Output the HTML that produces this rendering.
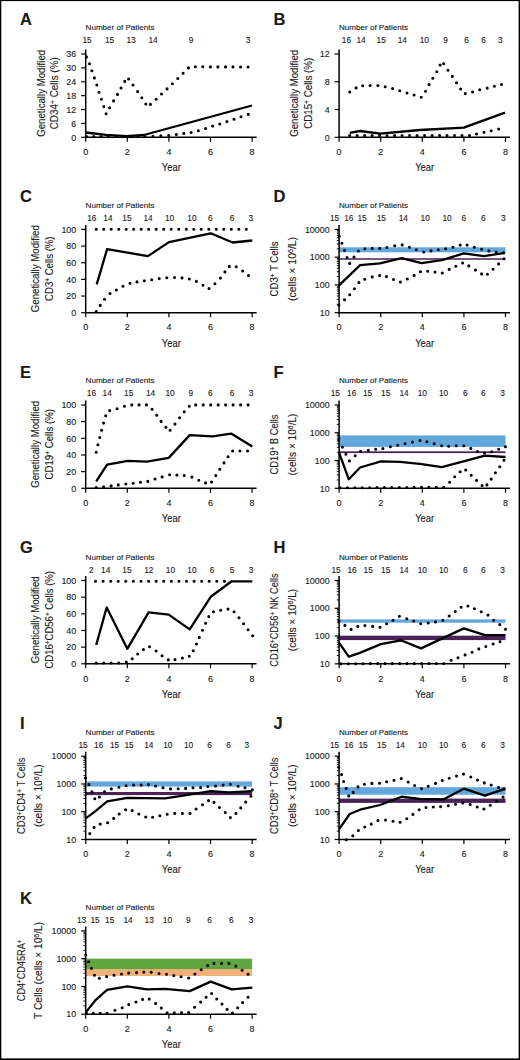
<!DOCTYPE html>
<html><head><meta charset="utf-8"><style>
html,body{margin:0;padding:0;background:#fff;}
svg{display:block;}
text{font-family:"Liberation Sans", sans-serif;fill:#1a1a1a;stroke:#1a1a1a;stroke-width:0.12px;}
</style></head><body>
<svg width="520" height="1060" viewBox="0 0 520 1060">
<rect x="0" y="0" width="520" height="1060" fill="#fff"/>
<path d="M85.70,49.50 V137.30 H256.60" fill="none" stroke="#000" stroke-width="1.5"/>
<line x1="85.70" y1="137.30" x2="85.70" y2="141.80" stroke="#000" stroke-width="1.2"/>
<text x="85.70" y="155.00" font-size="9.0" text-anchor="middle" font-weight="normal">0</text>
<line x1="127.30" y1="137.30" x2="127.30" y2="141.80" stroke="#000" stroke-width="1.2"/>
<text x="127.30" y="155.00" font-size="9.0" text-anchor="middle" font-weight="normal">2</text>
<line x1="168.90" y1="137.30" x2="168.90" y2="141.80" stroke="#000" stroke-width="1.2"/>
<text x="168.90" y="155.00" font-size="9.0" text-anchor="middle" font-weight="normal">4</text>
<line x1="210.50" y1="137.30" x2="210.50" y2="141.80" stroke="#000" stroke-width="1.2"/>
<text x="210.50" y="155.00" font-size="9.0" text-anchor="middle" font-weight="normal">6</text>
<line x1="252.10" y1="137.30" x2="252.10" y2="141.80" stroke="#000" stroke-width="1.2"/>
<text x="252.10" y="155.00" font-size="9.0" text-anchor="middle" font-weight="normal">8</text>
<text x="171.30" y="171.10" font-size="10.3" text-anchor="middle" font-weight="normal" textLength="19" lengthAdjust="spacingAndGlyphs">Year</text>
<line x1="81.20" y1="137.30" x2="85.70" y2="137.30" stroke="#000" stroke-width="1.2"/>
<text x="76.20" y="140.50" font-size="8.9" text-anchor="end" font-weight="normal">0</text>
<line x1="81.20" y1="123.42" x2="85.70" y2="123.42" stroke="#000" stroke-width="1.2"/>
<text x="76.20" y="126.62" font-size="8.9" text-anchor="end" font-weight="normal">6</text>
<line x1="81.20" y1="109.53" x2="85.70" y2="109.53" stroke="#000" stroke-width="1.2"/>
<text x="76.20" y="112.73" font-size="8.9" text-anchor="end" font-weight="normal">12</text>
<line x1="81.20" y1="95.65" x2="85.70" y2="95.65" stroke="#000" stroke-width="1.2"/>
<text x="76.20" y="98.85" font-size="8.9" text-anchor="end" font-weight="normal">18</text>
<line x1="81.20" y1="81.77" x2="85.70" y2="81.77" stroke="#000" stroke-width="1.2"/>
<text x="76.20" y="84.97" font-size="8.9" text-anchor="end" font-weight="normal">24</text>
<line x1="81.20" y1="67.88" x2="85.70" y2="67.88" stroke="#000" stroke-width="1.2"/>
<text x="76.20" y="71.08" font-size="8.9" text-anchor="end" font-weight="normal">30</text>
<line x1="81.20" y1="54.00" x2="85.70" y2="54.00" stroke="#000" stroke-width="1.2"/>
<text x="76.20" y="57.20" font-size="8.9" text-anchor="end" font-weight="normal">36</text>
<text x="20.00" y="24.50" font-size="16.5" text-anchor="start" font-weight="bold">A</text>
<text x="85.60" y="30.40" font-size="7.8" text-anchor="start" font-weight="normal" textLength="69" lengthAdjust="spacingAndGlyphs">Number of Patients</text>
<text x="87.00" y="43.00" font-size="8.3" text-anchor="middle" font-weight="normal">15</text>
<text x="109.50" y="43.00" font-size="8.3" text-anchor="middle" font-weight="normal">15</text>
<text x="131.00" y="43.00" font-size="8.3" text-anchor="middle" font-weight="normal">13</text>
<text x="153.00" y="43.00" font-size="8.3" text-anchor="middle" font-weight="normal">14</text>
<text x="191.10" y="43.00" font-size="8.3" text-anchor="middle" font-weight="normal">9</text>
<text x="248.10" y="43.00" font-size="8.3" text-anchor="middle" font-weight="normal">3</text>
<text x="0" y="0" font-size="10.4" text-anchor="middle" transform="translate(44.60,93.30) rotate(-90)" textLength="87" lengthAdjust="spacingAndGlyphs">Genetically Modified</text>
<text x="0" y="0" font-size="10.4" text-anchor="middle" transform="translate(58.20,93.30) rotate(-90)" textLength="72" lengthAdjust="spacingAndGlyphs">CD34<tspan dy="-0.42em" font-size="68%">+</tspan><tspan dy="0.286em"> Cells (%)</tspan></text>
<path d="M86.4,56.9h0 M89.5,63.8h0 M91.9,70.8h0 M94.4,77.9h0 M96.8,85.0h0 M99.0,92.2h0 M101.4,99.3h0 M103.8,106.6h0 M106.1,113.7h0 M109.6,107.7h0 M113.6,100.9h0 M117.5,94.4h0 M121.0,88.0h0 M124.8,81.4h0 M128.6,79.0h0 M133.0,85.0h0 M137.6,91.6h0 M141.8,97.8h0 M145.8,104.0h0 M150.4,104.4h0 M156.2,99.3h0 M161.5,94.0h0 M167.0,88.9h0 M172.3,83.8h0 M177.8,78.5h0 M183.1,73.3h0 M188.4,67.9h0 M195.3,66.8h0 M202.8,66.8h0 M210.4,66.9h0 M217.9,66.9h0 M225.5,66.9h0 M233.0,66.9h0 M240.6,67.0h0 M248.1,67.0h0" fill="none" stroke="#050510" stroke-width="3.1" stroke-linecap="round"/>
<path d="M85.7,132.5 L106.0,134.9 L127.0,136.1 L144.0,135.0 L252.0,105.5" fill="none" stroke="#000" stroke-width="2.3" stroke-linejoin="round"/>
<path d="M86.5,136.6h0 M93.8,136.6h0 M101.1,136.6h0 M108.4,136.6h0 M115.8,136.6h0 M123.1,136.6h0 M130.4,136.6h0 M137.7,136.6h0 M145.0,136.6h0 M152.9,136.2h0 M160.8,135.9h0 M168.7,135.5h0 M176.3,134.5h0 M183.8,133.4h0 M191.1,132.5h0 M198.4,130.7h0 M205.6,128.5h0 M212.7,126.1h0 M219.8,124.0h0 M226.9,121.6h0 M234.0,119.2h0 M241.0,116.8h0 M248.3,114.4h0" fill="none" stroke="#050510" stroke-width="3.1" stroke-linecap="round"/>
<path d="M339.10,49.50 V137.30 H510.00" fill="none" stroke="#000" stroke-width="1.5"/>
<line x1="339.10" y1="137.30" x2="339.10" y2="141.80" stroke="#000" stroke-width="1.2"/>
<text x="339.10" y="155.00" font-size="9.0" text-anchor="middle" font-weight="normal">0</text>
<line x1="380.70" y1="137.30" x2="380.70" y2="141.80" stroke="#000" stroke-width="1.2"/>
<text x="380.70" y="155.00" font-size="9.0" text-anchor="middle" font-weight="normal">2</text>
<line x1="422.30" y1="137.30" x2="422.30" y2="141.80" stroke="#000" stroke-width="1.2"/>
<text x="422.30" y="155.00" font-size="9.0" text-anchor="middle" font-weight="normal">4</text>
<line x1="463.90" y1="137.30" x2="463.90" y2="141.80" stroke="#000" stroke-width="1.2"/>
<text x="463.90" y="155.00" font-size="9.0" text-anchor="middle" font-weight="normal">6</text>
<line x1="505.50" y1="137.30" x2="505.50" y2="141.80" stroke="#000" stroke-width="1.2"/>
<text x="505.50" y="155.00" font-size="9.0" text-anchor="middle" font-weight="normal">8</text>
<text x="424.70" y="171.10" font-size="10.3" text-anchor="middle" font-weight="normal" textLength="19" lengthAdjust="spacingAndGlyphs">Year</text>
<line x1="334.60" y1="137.30" x2="339.10" y2="137.30" stroke="#000" stroke-width="1.2"/>
<text x="329.60" y="140.50" font-size="8.9" text-anchor="end" font-weight="normal">0</text>
<line x1="334.60" y1="109.53" x2="339.10" y2="109.53" stroke="#000" stroke-width="1.2"/>
<text x="329.60" y="112.73" font-size="8.9" text-anchor="end" font-weight="normal">4</text>
<line x1="334.60" y1="81.77" x2="339.10" y2="81.77" stroke="#000" stroke-width="1.2"/>
<text x="329.60" y="84.97" font-size="8.9" text-anchor="end" font-weight="normal">8</text>
<line x1="334.60" y1="54.00" x2="339.10" y2="54.00" stroke="#000" stroke-width="1.2"/>
<text x="329.60" y="57.20" font-size="8.9" text-anchor="end" font-weight="normal">12</text>
<text x="273.50" y="24.50" font-size="16.5" text-anchor="start" font-weight="bold">B</text>
<text x="339.00" y="30.20" font-size="7.8" text-anchor="start" font-weight="normal" textLength="69" lengthAdjust="spacingAndGlyphs">Number of Patients</text>
<text x="346.40" y="42.50" font-size="8.3" text-anchor="middle" font-weight="normal">16</text>
<text x="361.00" y="42.50" font-size="8.3" text-anchor="middle" font-weight="normal">14</text>
<text x="381.20" y="42.50" font-size="8.3" text-anchor="middle" font-weight="normal">15</text>
<text x="402.30" y="42.50" font-size="8.3" text-anchor="middle" font-weight="normal">14</text>
<text x="424.30" y="42.50" font-size="8.3" text-anchor="middle" font-weight="normal">10</text>
<text x="445.50" y="42.50" font-size="8.3" text-anchor="middle" font-weight="normal">9</text>
<text x="466.60" y="42.50" font-size="8.3" text-anchor="middle" font-weight="normal">6</text>
<text x="483.50" y="42.50" font-size="8.3" text-anchor="middle" font-weight="normal">6</text>
<text x="500.30" y="42.50" font-size="8.3" text-anchor="middle" font-weight="normal">3</text>
<text x="0" y="0" font-size="10.4" text-anchor="middle" transform="translate(298.00,93.30) rotate(-90)" textLength="87" lengthAdjust="spacingAndGlyphs">Genetically Modified</text>
<text x="0" y="0" font-size="10.4" text-anchor="middle" transform="translate(311.60,93.30) rotate(-90)" textLength="71" lengthAdjust="spacingAndGlyphs">CD15<tspan dy="-0.42em" font-size="68%">+</tspan><tspan dy="0.286em"> Cells (%)</tspan></text>
<path d="M349.7,92.1h0 M356.1,87.9h0 M362.7,85.8h0 M370.1,85.5h0 M377.9,85.5h0 M385.2,86.7h0 M392.6,88.6h0 M399.7,90.7h0 M407.0,93.0h0 M414.1,95.0h0 M421.2,97.3h0 M425.5,91.2h0 M429.1,84.6h0 M432.8,78.2h0 M436.8,71.7h0 M440.1,65.1h0 M443.7,63.8h0 M448.0,70.2h0 M452.3,76.4h0 M456.5,82.8h0 M460.7,89.0h0 M465.3,93.6h0 M472.6,92.0h0 M479.7,89.8h0 M487.2,88.1h0 M494.4,86.3h0 M501.5,84.5h0" fill="none" stroke="#050510" stroke-width="3.1" stroke-linecap="round"/>
<path d="M349.7,132.9 L360.1,131.0 L380.3,133.6 L420.0,130.0 L463.8,127.6 L505.0,112.6" fill="none" stroke="#000" stroke-width="2.3" stroke-linejoin="round"/>
<path d="M349.7,135.6h0 M357.2,135.6h0 M364.7,135.6h0 M372.2,135.6h0 M379.6,135.6h0 M387.1,135.6h0 M394.6,135.6h0 M402.1,135.6h0 M409.6,135.6h0 M417.1,135.6h0 M424.6,135.6h0 M432.1,135.6h0 M439.6,135.6h0 M447.0,135.6h0 M454.5,135.6h0 M462.0,135.6h0 M469.5,135.6h0 M476.6,134.0h0 M484.0,132.3h0 M491.2,130.7h0 M498.6,129.0h0" fill="none" stroke="#050510" stroke-width="3.1" stroke-linecap="round"/>
<path d="M85.70,224.90 V312.70 H256.60" fill="none" stroke="#000" stroke-width="1.5"/>
<line x1="85.70" y1="312.70" x2="85.70" y2="317.20" stroke="#000" stroke-width="1.2"/>
<text x="85.70" y="330.40" font-size="9.0" text-anchor="middle" font-weight="normal">0</text>
<line x1="127.30" y1="312.70" x2="127.30" y2="317.20" stroke="#000" stroke-width="1.2"/>
<text x="127.30" y="330.40" font-size="9.0" text-anchor="middle" font-weight="normal">2</text>
<line x1="168.90" y1="312.70" x2="168.90" y2="317.20" stroke="#000" stroke-width="1.2"/>
<text x="168.90" y="330.40" font-size="9.0" text-anchor="middle" font-weight="normal">4</text>
<line x1="210.50" y1="312.70" x2="210.50" y2="317.20" stroke="#000" stroke-width="1.2"/>
<text x="210.50" y="330.40" font-size="9.0" text-anchor="middle" font-weight="normal">6</text>
<line x1="252.10" y1="312.70" x2="252.10" y2="317.20" stroke="#000" stroke-width="1.2"/>
<text x="252.10" y="330.40" font-size="9.0" text-anchor="middle" font-weight="normal">8</text>
<text x="171.30" y="346.50" font-size="10.3" text-anchor="middle" font-weight="normal" textLength="19" lengthAdjust="spacingAndGlyphs">Year</text>
<line x1="81.20" y1="312.70" x2="85.70" y2="312.70" stroke="#000" stroke-width="1.2"/>
<text x="76.20" y="315.90" font-size="8.9" text-anchor="end" font-weight="normal">0</text>
<line x1="81.20" y1="296.04" x2="85.70" y2="296.04" stroke="#000" stroke-width="1.2"/>
<text x="76.20" y="299.24" font-size="8.9" text-anchor="end" font-weight="normal">20</text>
<line x1="81.20" y1="279.38" x2="85.70" y2="279.38" stroke="#000" stroke-width="1.2"/>
<text x="76.20" y="282.58" font-size="8.9" text-anchor="end" font-weight="normal">40</text>
<line x1="81.20" y1="262.72" x2="85.70" y2="262.72" stroke="#000" stroke-width="1.2"/>
<text x="76.20" y="265.92" font-size="8.9" text-anchor="end" font-weight="normal">60</text>
<line x1="81.20" y1="246.06" x2="85.70" y2="246.06" stroke="#000" stroke-width="1.2"/>
<text x="76.20" y="249.26" font-size="8.9" text-anchor="end" font-weight="normal">80</text>
<line x1="81.20" y1="229.40" x2="85.70" y2="229.40" stroke="#000" stroke-width="1.2"/>
<text x="76.20" y="232.60" font-size="8.9" text-anchor="end" font-weight="normal">100</text>
<text x="20.00" y="202.30" font-size="16.5" text-anchor="start" font-weight="bold">C</text>
<text x="85.60" y="207.70" font-size="7.8" text-anchor="start" font-weight="normal" textLength="69" lengthAdjust="spacingAndGlyphs">Number of Patients</text>
<text x="91.80" y="220.60" font-size="8.3" text-anchor="middle" font-weight="normal">16</text>
<text x="107.90" y="220.60" font-size="8.3" text-anchor="middle" font-weight="normal">14</text>
<text x="126.90" y="220.60" font-size="8.3" text-anchor="middle" font-weight="normal">15</text>
<text x="148.10" y="220.60" font-size="8.3" text-anchor="middle" font-weight="normal">14</text>
<text x="169.60" y="220.60" font-size="8.3" text-anchor="middle" font-weight="normal">10</text>
<text x="191.90" y="220.60" font-size="8.3" text-anchor="middle" font-weight="normal">10</text>
<text x="210.20" y="220.60" font-size="8.3" text-anchor="middle" font-weight="normal">6</text>
<text x="232.10" y="220.60" font-size="8.3" text-anchor="middle" font-weight="normal">6</text>
<text x="250.70" y="220.60" font-size="8.3" text-anchor="middle" font-weight="normal">3</text>
<text x="0" y="0" font-size="10.4" text-anchor="middle" transform="translate(39.00,268.70) rotate(-90)" textLength="87" lengthAdjust="spacingAndGlyphs">Genetically Modified</text>
<text x="0" y="0" font-size="10.4" text-anchor="middle" transform="translate(53.20,268.70) rotate(-90)" textLength="64.5" lengthAdjust="spacingAndGlyphs">CD3<tspan dy="-0.42em" font-size="68%">+</tspan><tspan dy="0.286em"> Cells (%)</tspan></text>
<path d="M96.2,229.2h0 M103.7,229.2h0 M111.2,229.2h0 M118.7,229.2h0 M126.2,229.2h0 M133.7,229.2h0 M141.2,229.2h0 M148.7,229.2h0 M156.2,229.2h0 M163.7,229.2h0 M171.2,229.2h0 M178.8,229.2h0 M186.3,229.2h0 M193.8,229.2h0 M201.3,229.2h0 M208.8,229.2h0 M216.3,229.2h0 M223.8,229.2h0 M231.3,229.2h0 M238.8,229.2h0 M246.3,229.2h0" fill="none" stroke="#050510" stroke-width="3.1" stroke-linecap="round"/>
<path d="M96.7,284.3 L107.1,249.2 L147.8,256.1 L169.0,242.1 L210.7,233.3 L232.6,242.5 L252.3,240.5" fill="none" stroke="#000" stroke-width="2.3" stroke-linejoin="round"/>
<path d="M96.2,311.6h0 M100.2,305.4h0 M104.5,299.2h0 M110.0,293.5h0 M116.3,290.0h0 M123.0,286.2h0 M130.0,283.3h0 M137.0,281.9h0 M144.3,280.8h0 M151.7,279.8h0 M159.2,278.6h0 M166.8,277.7h0 M174.5,277.5h0 M182.0,277.9h0 M189.3,279.0h0 M196.4,281.4h0 M203.0,285.2h0 M209.0,288.5h0 M214.9,283.7h0 M220.4,278.1h0 M224.9,271.9h0 M229.3,266.4h0 M236.2,266.8h0 M242.6,271.0h0 M248.5,275.5h0" fill="none" stroke="#050510" stroke-width="3.1" stroke-linecap="round"/>
<rect x="339.10" y="247.30" width="166.40" height="5.00" fill="#62a8dd"/>
<rect x="339.10" y="258.25" width="166.40" height="1.50" fill="#4a2458"/>
<path d="M339.10,224.90 V312.70 H510.00" fill="none" stroke="#000" stroke-width="1.5"/>
<line x1="339.10" y1="312.70" x2="339.10" y2="317.20" stroke="#000" stroke-width="1.2"/>
<text x="339.10" y="330.40" font-size="9.0" text-anchor="middle" font-weight="normal">0</text>
<line x1="380.70" y1="312.70" x2="380.70" y2="317.20" stroke="#000" stroke-width="1.2"/>
<text x="380.70" y="330.40" font-size="9.0" text-anchor="middle" font-weight="normal">2</text>
<line x1="422.30" y1="312.70" x2="422.30" y2="317.20" stroke="#000" stroke-width="1.2"/>
<text x="422.30" y="330.40" font-size="9.0" text-anchor="middle" font-weight="normal">4</text>
<line x1="463.90" y1="312.70" x2="463.90" y2="317.20" stroke="#000" stroke-width="1.2"/>
<text x="463.90" y="330.40" font-size="9.0" text-anchor="middle" font-weight="normal">6</text>
<line x1="505.50" y1="312.70" x2="505.50" y2="317.20" stroke="#000" stroke-width="1.2"/>
<text x="505.50" y="330.40" font-size="9.0" text-anchor="middle" font-weight="normal">8</text>
<text x="424.70" y="346.50" font-size="10.3" text-anchor="middle" font-weight="normal" textLength="19" lengthAdjust="spacingAndGlyphs">Year</text>
<line x1="334.60" y1="312.70" x2="339.10" y2="312.70" stroke="#000" stroke-width="1.2"/>
<text x="329.60" y="315.90" font-size="8.9" text-anchor="end" font-weight="normal">10</text>
<line x1="336.80" y1="304.34" x2="339.10" y2="304.34" stroke="#000" stroke-width="0.9"/>
<line x1="336.80" y1="299.45" x2="339.10" y2="299.45" stroke="#000" stroke-width="0.9"/>
<line x1="336.80" y1="295.98" x2="339.10" y2="295.98" stroke="#000" stroke-width="0.9"/>
<line x1="336.80" y1="293.29" x2="339.10" y2="293.29" stroke="#000" stroke-width="0.9"/>
<line x1="336.80" y1="291.09" x2="339.10" y2="291.09" stroke="#000" stroke-width="0.9"/>
<line x1="336.80" y1="289.23" x2="339.10" y2="289.23" stroke="#000" stroke-width="0.9"/>
<line x1="336.80" y1="287.62" x2="339.10" y2="287.62" stroke="#000" stroke-width="0.9"/>
<line x1="336.80" y1="286.20" x2="339.10" y2="286.20" stroke="#000" stroke-width="0.9"/>
<line x1="334.60" y1="284.93" x2="339.10" y2="284.93" stroke="#000" stroke-width="1.2"/>
<text x="329.60" y="288.13" font-size="8.9" text-anchor="end" font-weight="normal">100</text>
<line x1="336.80" y1="276.57" x2="339.10" y2="276.57" stroke="#000" stroke-width="0.9"/>
<line x1="336.80" y1="271.69" x2="339.10" y2="271.69" stroke="#000" stroke-width="0.9"/>
<line x1="336.80" y1="268.22" x2="339.10" y2="268.22" stroke="#000" stroke-width="0.9"/>
<line x1="336.80" y1="265.53" x2="339.10" y2="265.53" stroke="#000" stroke-width="0.9"/>
<line x1="336.80" y1="263.33" x2="339.10" y2="263.33" stroke="#000" stroke-width="0.9"/>
<line x1="336.80" y1="261.47" x2="339.10" y2="261.47" stroke="#000" stroke-width="0.9"/>
<line x1="336.80" y1="259.86" x2="339.10" y2="259.86" stroke="#000" stroke-width="0.9"/>
<line x1="336.80" y1="258.44" x2="339.10" y2="258.44" stroke="#000" stroke-width="0.9"/>
<line x1="334.60" y1="257.17" x2="339.10" y2="257.17" stroke="#000" stroke-width="1.2"/>
<text x="329.60" y="260.37" font-size="8.9" text-anchor="end" font-weight="normal">1000</text>
<line x1="336.80" y1="248.81" x2="339.10" y2="248.81" stroke="#000" stroke-width="0.9"/>
<line x1="336.80" y1="243.92" x2="339.10" y2="243.92" stroke="#000" stroke-width="0.9"/>
<line x1="336.80" y1="240.45" x2="339.10" y2="240.45" stroke="#000" stroke-width="0.9"/>
<line x1="336.80" y1="237.76" x2="339.10" y2="237.76" stroke="#000" stroke-width="0.9"/>
<line x1="336.80" y1="235.56" x2="339.10" y2="235.56" stroke="#000" stroke-width="0.9"/>
<line x1="336.80" y1="233.70" x2="339.10" y2="233.70" stroke="#000" stroke-width="0.9"/>
<line x1="336.80" y1="232.09" x2="339.10" y2="232.09" stroke="#000" stroke-width="0.9"/>
<line x1="336.80" y1="230.67" x2="339.10" y2="230.67" stroke="#000" stroke-width="0.9"/>
<line x1="334.60" y1="229.40" x2="339.10" y2="229.40" stroke="#000" stroke-width="1.2"/>
<text x="329.60" y="232.60" font-size="8.9" text-anchor="end" font-weight="normal">10000</text>
<text x="273.50" y="202.30" font-size="16.5" text-anchor="start" font-weight="bold">D</text>
<text x="339.00" y="207.70" font-size="7.8" text-anchor="start" font-weight="normal" textLength="69" lengthAdjust="spacingAndGlyphs">Number of Patients</text>
<text x="334.60" y="220.70" font-size="8.3" text-anchor="middle" font-weight="normal">15</text>
<text x="348.80" y="220.70" font-size="8.3" text-anchor="middle" font-weight="normal">16</text>
<text x="362.00" y="220.70" font-size="8.3" text-anchor="middle" font-weight="normal">15</text>
<text x="381.30" y="220.70" font-size="8.3" text-anchor="middle" font-weight="normal">15</text>
<text x="403.30" y="220.70" font-size="8.3" text-anchor="middle" font-weight="normal">14</text>
<text x="425.20" y="220.70" font-size="8.3" text-anchor="middle" font-weight="normal">10</text>
<text x="447.10" y="220.70" font-size="8.3" text-anchor="middle" font-weight="normal">10</text>
<text x="463.90" y="220.70" font-size="8.3" text-anchor="middle" font-weight="normal">6</text>
<text x="483.30" y="220.70" font-size="8.3" text-anchor="middle" font-weight="normal">6</text>
<text x="503.40" y="220.70" font-size="8.3" text-anchor="middle" font-weight="normal">3</text>
<text x="0" y="0" font-size="10.8" text-anchor="middle" transform="translate(278.30,268.90) rotate(-90)" textLength="55" lengthAdjust="spacingAndGlyphs">CD3<tspan dy="-0.42em" font-size="68%">+</tspan><tspan dy="0.286em"> T Cells</tspan></text>
<text x="0" y="0" font-size="10.8" text-anchor="middle" transform="translate(295.80,268.90) rotate(-90)" textLength="64" lengthAdjust="spacingAndGlyphs">(cells × 10<tspan dy="-0.42em" font-size="68%">6</tspan><tspan dy="0.286em">/L)</tspan></text>
<path d="M339.3,236.2h0 M341.9,243.2h0 M344.5,250.4h0 M347.1,257.5h0 M349.7,263.4h0 M354.0,257.0h0 M358.4,251.0h0 M364.8,248.7h0 M372.2,248.4h0 M379.7,248.4h0 M386.9,247.5h0 M394.7,245.8h0 M402.2,244.9h0 M409.4,247.2h0 M416.3,249.7h0 M423.7,252.0h0 M431.0,250.9h0 M438.3,249.7h0 M445.6,248.7h0 M452.9,247.3h0 M460.2,245.1h0 M467.1,245.1h0 M474.3,247.3h0 M481.6,249.3h0 M488.9,250.9h0 M496.2,252.0h0 M503.7,252.8h0" fill="none" stroke="#050510" stroke-width="3.1" stroke-linecap="round"/>
<path d="M338.8,285.6 L360.1,265.2 L380.0,263.4 L401.6,258.2 L421.5,263.1 L441.9,260.1 L463.8,253.3 L483.9,256.1 L505.0,252.8" fill="none" stroke="#000" stroke-width="2.3" stroke-linejoin="round"/>
<path d="M338.8,305.0h0 M344.5,299.8h0 M349.7,294.7h0 M354.4,288.7h0 M358.9,282.5h0 M364.8,279.2h0 M372.2,276.9h0 M379.7,275.5h0 M386.4,276.6h0 M393.5,279.5h0 M400.4,282.1h0 M407.3,279.0h0 M414.1,275.4h0 M420.5,271.7h0 M427.7,271.2h0 M435.0,272.1h0 M442.3,273.0h0 M449.2,269.4h0 M455.8,266.3h0 M462.6,263.0h0 M468.8,265.9h0 M475.4,270.1h0 M481.6,273.9h0 M487.4,274.3h0 M493.1,269.2h0 M498.6,263.9h0 M504.0,258.8h0" fill="none" stroke="#050510" stroke-width="3.1" stroke-linecap="round"/>
<path d="M85.70,400.50 V488.30 H256.60" fill="none" stroke="#000" stroke-width="1.5"/>
<line x1="85.70" y1="488.30" x2="85.70" y2="492.80" stroke="#000" stroke-width="1.2"/>
<text x="85.70" y="506.00" font-size="9.0" text-anchor="middle" font-weight="normal">0</text>
<line x1="127.30" y1="488.30" x2="127.30" y2="492.80" stroke="#000" stroke-width="1.2"/>
<text x="127.30" y="506.00" font-size="9.0" text-anchor="middle" font-weight="normal">2</text>
<line x1="168.90" y1="488.30" x2="168.90" y2="492.80" stroke="#000" stroke-width="1.2"/>
<text x="168.90" y="506.00" font-size="9.0" text-anchor="middle" font-weight="normal">4</text>
<line x1="210.50" y1="488.30" x2="210.50" y2="492.80" stroke="#000" stroke-width="1.2"/>
<text x="210.50" y="506.00" font-size="9.0" text-anchor="middle" font-weight="normal">6</text>
<line x1="252.10" y1="488.30" x2="252.10" y2="492.80" stroke="#000" stroke-width="1.2"/>
<text x="252.10" y="506.00" font-size="9.0" text-anchor="middle" font-weight="normal">8</text>
<text x="171.30" y="522.10" font-size="10.3" text-anchor="middle" font-weight="normal" textLength="19" lengthAdjust="spacingAndGlyphs">Year</text>
<line x1="81.20" y1="488.30" x2="85.70" y2="488.30" stroke="#000" stroke-width="1.2"/>
<text x="76.20" y="491.50" font-size="8.9" text-anchor="end" font-weight="normal">0</text>
<line x1="81.20" y1="471.64" x2="85.70" y2="471.64" stroke="#000" stroke-width="1.2"/>
<text x="76.20" y="474.84" font-size="8.9" text-anchor="end" font-weight="normal">20</text>
<line x1="81.20" y1="454.98" x2="85.70" y2="454.98" stroke="#000" stroke-width="1.2"/>
<text x="76.20" y="458.18" font-size="8.9" text-anchor="end" font-weight="normal">40</text>
<line x1="81.20" y1="438.32" x2="85.70" y2="438.32" stroke="#000" stroke-width="1.2"/>
<text x="76.20" y="441.52" font-size="8.9" text-anchor="end" font-weight="normal">60</text>
<line x1="81.20" y1="421.66" x2="85.70" y2="421.66" stroke="#000" stroke-width="1.2"/>
<text x="76.20" y="424.86" font-size="8.9" text-anchor="end" font-weight="normal">80</text>
<line x1="81.20" y1="405.00" x2="85.70" y2="405.00" stroke="#000" stroke-width="1.2"/>
<text x="76.20" y="408.20" font-size="8.9" text-anchor="end" font-weight="normal">100</text>
<text x="20.00" y="377.90" font-size="16.5" text-anchor="start" font-weight="bold">E</text>
<text x="85.60" y="383.00" font-size="7.8" text-anchor="start" font-weight="normal" textLength="69" lengthAdjust="spacingAndGlyphs">Number of Patients</text>
<text x="91.40" y="395.70" font-size="8.3" text-anchor="middle" font-weight="normal">16</text>
<text x="107.20" y="395.70" font-size="8.3" text-anchor="middle" font-weight="normal">14</text>
<text x="128.70" y="395.70" font-size="8.3" text-anchor="middle" font-weight="normal">15</text>
<text x="150.60" y="395.70" font-size="8.3" text-anchor="middle" font-weight="normal">14</text>
<text x="170.00" y="395.70" font-size="8.3" text-anchor="middle" font-weight="normal">10</text>
<text x="190.80" y="395.70" font-size="8.3" text-anchor="middle" font-weight="normal">9</text>
<text x="210.20" y="395.70" font-size="8.3" text-anchor="middle" font-weight="normal">6</text>
<text x="232.10" y="395.70" font-size="8.3" text-anchor="middle" font-weight="normal">6</text>
<text x="251.10" y="395.70" font-size="8.3" text-anchor="middle" font-weight="normal">3</text>
<text x="0" y="0" font-size="10.4" text-anchor="middle" transform="translate(39.00,444.30) rotate(-90)" textLength="87" lengthAdjust="spacingAndGlyphs">Genetically Modified</text>
<text x="0" y="0" font-size="10.4" text-anchor="middle" transform="translate(53.20,444.30) rotate(-90)" textLength="70.5" lengthAdjust="spacingAndGlyphs">CD19<tspan dy="-0.42em" font-size="68%">+</tspan><tspan dy="0.286em"> Cells (%)</tspan></text>
<path d="M96.2,452.2h0 M97.9,444.7h0 M99.8,437.5h0 M101.6,430.2h0 M103.6,423.1h0 M105.7,415.8h0 M109.7,410.6h0 M117.1,408.7h0 M124.4,406.3h0 M131.8,404.9h0 M139.1,404.9h0 M146.4,404.9h0 M152.1,409.2h0 M156.8,415.3h0 M161.1,421.4h0 M165.9,427.2h0 M170.1,430.3h0 M175.0,424.1h0 M179.6,417.7h0 M184.2,411.7h0 M189.3,406.2h0 M195.7,404.9h0 M203.2,404.9h0 M210.7,404.9h0 M218.2,404.9h0 M225.6,404.9h0 M233.1,404.9h0 M240.6,404.9h0 M248.1,404.9h0" fill="none" stroke="#050510" stroke-width="3.1" stroke-linecap="round"/>
<path d="M96.2,481.4 L107.1,464.6 L127.9,460.8 L146.9,461.7 L168.7,457.9 L189.7,435.1 L212.5,436.4 L231.1,433.6 L252.3,446.4" fill="none" stroke="#000" stroke-width="2.3" stroke-linejoin="round"/>
<path d="M96.2,487.6h0 M103.6,486.8h0 M111.1,485.9h0 M118.3,484.9h0 M125.8,484.0h0 M133.2,483.2h0 M140.5,482.3h0 M147.8,481.4h0 M155.0,479.0h0 M162.1,476.9h0 M169.6,474.7h0 M176.9,475.1h0 M184.2,475.5h0 M191.9,477.1h0 M198.8,480.2h0 M205.6,482.9h0 M211.6,482.0h0 M215.8,475.6h0 M219.8,469.2h0 M224.0,462.9h0 M228.0,456.8h0 M232.6,451.0h0 M239.9,451.0h0 M247.6,451.0h0" fill="none" stroke="#050510" stroke-width="3.1" stroke-linecap="round"/>
<rect x="339.10" y="435.40" width="166.40" height="11.50" fill="#62a8dd"/>
<rect x="339.10" y="451.30" width="166.40" height="1.80" fill="#4a2458"/>
<path d="M339.10,400.50 V488.30 H510.00" fill="none" stroke="#000" stroke-width="1.5"/>
<line x1="339.10" y1="488.30" x2="339.10" y2="492.80" stroke="#000" stroke-width="1.2"/>
<text x="339.10" y="506.00" font-size="9.0" text-anchor="middle" font-weight="normal">0</text>
<line x1="380.70" y1="488.30" x2="380.70" y2="492.80" stroke="#000" stroke-width="1.2"/>
<text x="380.70" y="506.00" font-size="9.0" text-anchor="middle" font-weight="normal">2</text>
<line x1="422.30" y1="488.30" x2="422.30" y2="492.80" stroke="#000" stroke-width="1.2"/>
<text x="422.30" y="506.00" font-size="9.0" text-anchor="middle" font-weight="normal">4</text>
<line x1="463.90" y1="488.30" x2="463.90" y2="492.80" stroke="#000" stroke-width="1.2"/>
<text x="463.90" y="506.00" font-size="9.0" text-anchor="middle" font-weight="normal">6</text>
<line x1="505.50" y1="488.30" x2="505.50" y2="492.80" stroke="#000" stroke-width="1.2"/>
<text x="505.50" y="506.00" font-size="9.0" text-anchor="middle" font-weight="normal">8</text>
<text x="424.70" y="522.10" font-size="10.3" text-anchor="middle" font-weight="normal" textLength="19" lengthAdjust="spacingAndGlyphs">Year</text>
<line x1="334.60" y1="488.30" x2="339.10" y2="488.30" stroke="#000" stroke-width="1.2"/>
<text x="329.60" y="491.50" font-size="8.9" text-anchor="end" font-weight="normal">10</text>
<line x1="336.80" y1="479.94" x2="339.10" y2="479.94" stroke="#000" stroke-width="0.9"/>
<line x1="336.80" y1="475.05" x2="339.10" y2="475.05" stroke="#000" stroke-width="0.9"/>
<line x1="336.80" y1="471.58" x2="339.10" y2="471.58" stroke="#000" stroke-width="0.9"/>
<line x1="336.80" y1="468.89" x2="339.10" y2="468.89" stroke="#000" stroke-width="0.9"/>
<line x1="336.80" y1="466.69" x2="339.10" y2="466.69" stroke="#000" stroke-width="0.9"/>
<line x1="336.80" y1="464.83" x2="339.10" y2="464.83" stroke="#000" stroke-width="0.9"/>
<line x1="336.80" y1="463.22" x2="339.10" y2="463.22" stroke="#000" stroke-width="0.9"/>
<line x1="336.80" y1="461.80" x2="339.10" y2="461.80" stroke="#000" stroke-width="0.9"/>
<line x1="334.60" y1="460.53" x2="339.10" y2="460.53" stroke="#000" stroke-width="1.2"/>
<text x="329.60" y="463.73" font-size="8.9" text-anchor="end" font-weight="normal">100</text>
<line x1="336.80" y1="452.17" x2="339.10" y2="452.17" stroke="#000" stroke-width="0.9"/>
<line x1="336.80" y1="447.29" x2="339.10" y2="447.29" stroke="#000" stroke-width="0.9"/>
<line x1="336.80" y1="443.82" x2="339.10" y2="443.82" stroke="#000" stroke-width="0.9"/>
<line x1="336.80" y1="441.13" x2="339.10" y2="441.13" stroke="#000" stroke-width="0.9"/>
<line x1="336.80" y1="438.93" x2="339.10" y2="438.93" stroke="#000" stroke-width="0.9"/>
<line x1="336.80" y1="437.07" x2="339.10" y2="437.07" stroke="#000" stroke-width="0.9"/>
<line x1="336.80" y1="435.46" x2="339.10" y2="435.46" stroke="#000" stroke-width="0.9"/>
<line x1="336.80" y1="434.04" x2="339.10" y2="434.04" stroke="#000" stroke-width="0.9"/>
<line x1="334.60" y1="432.77" x2="339.10" y2="432.77" stroke="#000" stroke-width="1.2"/>
<text x="329.60" y="435.97" font-size="8.9" text-anchor="end" font-weight="normal">1000</text>
<line x1="336.80" y1="424.41" x2="339.10" y2="424.41" stroke="#000" stroke-width="0.9"/>
<line x1="336.80" y1="419.52" x2="339.10" y2="419.52" stroke="#000" stroke-width="0.9"/>
<line x1="336.80" y1="416.05" x2="339.10" y2="416.05" stroke="#000" stroke-width="0.9"/>
<line x1="336.80" y1="413.36" x2="339.10" y2="413.36" stroke="#000" stroke-width="0.9"/>
<line x1="336.80" y1="411.16" x2="339.10" y2="411.16" stroke="#000" stroke-width="0.9"/>
<line x1="336.80" y1="409.30" x2="339.10" y2="409.30" stroke="#000" stroke-width="0.9"/>
<line x1="336.80" y1="407.69" x2="339.10" y2="407.69" stroke="#000" stroke-width="0.9"/>
<line x1="336.80" y1="406.27" x2="339.10" y2="406.27" stroke="#000" stroke-width="0.9"/>
<line x1="334.60" y1="405.00" x2="339.10" y2="405.00" stroke="#000" stroke-width="1.2"/>
<text x="329.60" y="408.20" font-size="8.9" text-anchor="end" font-weight="normal">10000</text>
<text x="273.50" y="377.90" font-size="16.5" text-anchor="start" font-weight="bold">F</text>
<text x="339.00" y="383.00" font-size="7.8" text-anchor="start" font-weight="normal" textLength="69" lengthAdjust="spacingAndGlyphs">Number of Patients</text>
<text x="335.30" y="395.70" font-size="8.3" text-anchor="middle" font-weight="normal">15</text>
<text x="351.70" y="395.70" font-size="8.3" text-anchor="middle" font-weight="normal">16</text>
<text x="367.50" y="395.70" font-size="8.3" text-anchor="middle" font-weight="normal">15</text>
<text x="385.70" y="395.70" font-size="8.3" text-anchor="middle" font-weight="normal">15</text>
<text x="404.00" y="395.70" font-size="8.3" text-anchor="middle" font-weight="normal">14</text>
<text x="422.30" y="395.70" font-size="8.3" text-anchor="middle" font-weight="normal">10</text>
<text x="443.50" y="395.70" font-size="8.3" text-anchor="middle" font-weight="normal">10</text>
<text x="465.40" y="395.70" font-size="8.3" text-anchor="middle" font-weight="normal">6</text>
<text x="483.30" y="395.70" font-size="8.3" text-anchor="middle" font-weight="normal">6</text>
<text x="502.60" y="395.70" font-size="8.3" text-anchor="middle" font-weight="normal">3</text>
<text x="0" y="0" font-size="10.8" text-anchor="middle" transform="translate(278.30,444.50) rotate(-90)" textLength="60" lengthAdjust="spacingAndGlyphs">CD19<tspan dy="-0.42em" font-size="68%">+</tspan><tspan dy="0.286em"> B Cells</tspan></text>
<text x="0" y="0" font-size="10.8" text-anchor="middle" transform="translate(295.80,444.50) rotate(-90)" textLength="62" lengthAdjust="spacingAndGlyphs">(cells × 10<tspan dy="-0.42em" font-size="68%">6</tspan><tspan dy="0.286em">/L)</tspan></text>
<path d="M338.8,439.8h0 M342.4,447.1h0 M345.9,454.2h0 M349.4,460.9h0 M355.2,455.7h0 M360.6,451.2h0 M368.2,450.4h0 M375.7,449.3h0 M382.9,448.5h0 M390.4,446.7h0 M397.7,445.3h0 M405.1,443.8h0 M412.5,442.1h0 M420.0,440.6h0 M426.9,441.7h0 M434.2,443.8h0 M441.6,445.7h0 M448.7,446.2h0 M456.2,445.7h0 M463.8,445.7h0 M470.8,448.4h0 M477.5,451.5h0 M484.5,453.0h0 M491.6,451.7h0 M498.6,449.3h0 M505.5,446.8h0" fill="none" stroke="#050510" stroke-width="3.1" stroke-linecap="round"/>
<path d="M338.8,451.9 L348.8,479.3 L360.1,467.5 L380.9,461.4 L399.9,461.8 L420.0,463.9 L441.9,467.2 L484.9,455.7 L505.5,457.0" fill="none" stroke="#000" stroke-width="2.3" stroke-linejoin="round"/>
<path d="M340.0,487.8h0 M347.4,487.8h0 M354.8,487.7h0 M362.2,487.7h0 M369.6,487.7h0 M377.0,487.6h0 M384.4,487.6h0 M391.8,487.6h0 M399.3,487.5h0 M406.7,487.5h0 M414.1,487.4h0 M421.5,487.4h0 M428.9,487.4h0 M436.3,487.3h0 M443.7,487.3h0 M449.6,482.2h0 M454.7,476.7h0 M460.2,471.8h0 M465.7,470.0h0 M471.2,475.3h0 M476.6,480.4h0 M482.1,485.5h0 M486.9,484.9h0 M491.2,479.1h0 M495.4,472.7h0 M499.8,466.7h0 M504.0,460.3h0" fill="none" stroke="#050510" stroke-width="3.1" stroke-linecap="round"/>
<path d="M85.70,576.00 V663.80 H256.60" fill="none" stroke="#000" stroke-width="1.5"/>
<line x1="85.70" y1="663.80" x2="85.70" y2="668.30" stroke="#000" stroke-width="1.2"/>
<text x="85.70" y="681.50" font-size="9.0" text-anchor="middle" font-weight="normal">0</text>
<line x1="127.30" y1="663.80" x2="127.30" y2="668.30" stroke="#000" stroke-width="1.2"/>
<text x="127.30" y="681.50" font-size="9.0" text-anchor="middle" font-weight="normal">2</text>
<line x1="168.90" y1="663.80" x2="168.90" y2="668.30" stroke="#000" stroke-width="1.2"/>
<text x="168.90" y="681.50" font-size="9.0" text-anchor="middle" font-weight="normal">4</text>
<line x1="210.50" y1="663.80" x2="210.50" y2="668.30" stroke="#000" stroke-width="1.2"/>
<text x="210.50" y="681.50" font-size="9.0" text-anchor="middle" font-weight="normal">6</text>
<line x1="252.10" y1="663.80" x2="252.10" y2="668.30" stroke="#000" stroke-width="1.2"/>
<text x="252.10" y="681.50" font-size="9.0" text-anchor="middle" font-weight="normal">8</text>
<text x="171.30" y="697.60" font-size="10.3" text-anchor="middle" font-weight="normal" textLength="19" lengthAdjust="spacingAndGlyphs">Year</text>
<line x1="81.20" y1="663.80" x2="85.70" y2="663.80" stroke="#000" stroke-width="1.2"/>
<text x="76.20" y="667.00" font-size="8.9" text-anchor="end" font-weight="normal">0</text>
<line x1="81.20" y1="647.14" x2="85.70" y2="647.14" stroke="#000" stroke-width="1.2"/>
<text x="76.20" y="650.34" font-size="8.9" text-anchor="end" font-weight="normal">20</text>
<line x1="81.20" y1="630.48" x2="85.70" y2="630.48" stroke="#000" stroke-width="1.2"/>
<text x="76.20" y="633.68" font-size="8.9" text-anchor="end" font-weight="normal">40</text>
<line x1="81.20" y1="613.82" x2="85.70" y2="613.82" stroke="#000" stroke-width="1.2"/>
<text x="76.20" y="617.02" font-size="8.9" text-anchor="end" font-weight="normal">60</text>
<line x1="81.20" y1="597.16" x2="85.70" y2="597.16" stroke="#000" stroke-width="1.2"/>
<text x="76.20" y="600.36" font-size="8.9" text-anchor="end" font-weight="normal">80</text>
<line x1="81.20" y1="580.50" x2="85.70" y2="580.50" stroke="#000" stroke-width="1.2"/>
<text x="76.20" y="583.70" font-size="8.9" text-anchor="end" font-weight="normal">100</text>
<text x="20.00" y="553.40" font-size="16.5" text-anchor="start" font-weight="bold">G</text>
<text x="85.60" y="559.50" font-size="7.8" text-anchor="start" font-weight="normal" textLength="69" lengthAdjust="spacingAndGlyphs">Number of Patients</text>
<text x="91.40" y="572.50" font-size="8.3" text-anchor="middle" font-weight="normal">2</text>
<text x="105.70" y="572.50" font-size="8.3" text-anchor="middle" font-weight="normal">14</text>
<text x="126.90" y="572.50" font-size="8.3" text-anchor="middle" font-weight="normal">15</text>
<text x="148.80" y="572.50" font-size="8.3" text-anchor="middle" font-weight="normal">12</text>
<text x="170.40" y="572.50" font-size="8.3" text-anchor="middle" font-weight="normal">10</text>
<text x="191.90" y="572.50" font-size="8.3" text-anchor="middle" font-weight="normal">10</text>
<text x="212.00" y="572.50" font-size="8.3" text-anchor="middle" font-weight="normal">6</text>
<text x="232.10" y="572.50" font-size="8.3" text-anchor="middle" font-weight="normal">5</text>
<text x="251.10" y="572.50" font-size="8.3" text-anchor="middle" font-weight="normal">3</text>
<text x="0" y="0" font-size="10.4" text-anchor="middle" transform="translate(39.00,619.80) rotate(-90)" textLength="87" lengthAdjust="spacingAndGlyphs">Genetically Modified</text>
<text x="0" y="0" font-size="10.4" text-anchor="middle" transform="translate(53.20,619.80) rotate(-90)" textLength="97.5" lengthAdjust="spacingAndGlyphs">CD16<tspan dy="-0.42em" font-size="68%">+</tspan><tspan dy="0.286em">CD56</tspan><tspan dy="-0.42em" font-size="68%">+</tspan><tspan dy="0.286em"> Cells (%)</tspan></text>
<path d="M95.5,581.3h0 M103.1,581.3h0 M110.7,581.3h0 M118.2,581.3h0 M125.8,581.3h0 M133.4,581.3h0 M141.0,581.3h0 M148.6,581.3h0 M156.2,581.3h0 M163.7,581.3h0 M171.3,581.3h0 M178.9,581.3h0 M186.5,581.3h0 M194.1,581.3h0 M201.7,581.3h0 M209.2,581.3h0 M216.8,581.3h0 M224.4,581.3h0" fill="none" stroke="#050510" stroke-width="3.1" stroke-linecap="round"/>
<path d="M96.2,645.0 L106.7,607.4 L127.3,648.8 L148.6,612.4 L168.7,614.6 L189.7,629.4 L210.7,596.8 L231.7,581.3 L252.3,581.3" fill="none" stroke="#000" stroke-width="2.3" stroke-linejoin="round"/>
<path d="M96.2,663.0h0 M103.7,663.0h0 M111.2,663.0h0 M118.7,663.0h0 M126.3,662.0h0 M132.2,658.8h0 M137.7,654.0h0 M143.4,649.6h0 M149.5,646.7h0 M156.1,651.0h0 M162.1,655.7h0 M168.3,659.9h0 M175.0,659.5h0 M182.4,658.0h0 M189.3,656.2h0 M193.3,650.7h0 M196.4,644.0h0 M199.3,637.4h0 M202.5,630.3h0 M205.6,623.3h0 M208.8,616.6h0 M213.4,611.8h0 M220.7,610.2h0 M228.0,609.1h0 M234.1,611.8h0 M239.0,617.8h0 M243.6,623.7h0 M248.1,629.7h0 M252.7,635.7h0" fill="none" stroke="#050510" stroke-width="3.1" stroke-linecap="round"/>
<rect x="339.10" y="619.40" width="166.40" height="3.30" fill="#62a8dd"/>
<rect x="339.10" y="635.70" width="166.40" height="4.40" fill="#4a2458"/>
<path d="M339.10,576.00 V663.80 H510.00" fill="none" stroke="#000" stroke-width="1.5"/>
<line x1="339.10" y1="663.80" x2="339.10" y2="668.30" stroke="#000" stroke-width="1.2"/>
<text x="339.10" y="681.50" font-size="9.0" text-anchor="middle" font-weight="normal">0</text>
<line x1="380.70" y1="663.80" x2="380.70" y2="668.30" stroke="#000" stroke-width="1.2"/>
<text x="380.70" y="681.50" font-size="9.0" text-anchor="middle" font-weight="normal">2</text>
<line x1="422.30" y1="663.80" x2="422.30" y2="668.30" stroke="#000" stroke-width="1.2"/>
<text x="422.30" y="681.50" font-size="9.0" text-anchor="middle" font-weight="normal">4</text>
<line x1="463.90" y1="663.80" x2="463.90" y2="668.30" stroke="#000" stroke-width="1.2"/>
<text x="463.90" y="681.50" font-size="9.0" text-anchor="middle" font-weight="normal">6</text>
<line x1="505.50" y1="663.80" x2="505.50" y2="668.30" stroke="#000" stroke-width="1.2"/>
<text x="505.50" y="681.50" font-size="9.0" text-anchor="middle" font-weight="normal">8</text>
<text x="424.70" y="697.60" font-size="10.3" text-anchor="middle" font-weight="normal" textLength="19" lengthAdjust="spacingAndGlyphs">Year</text>
<line x1="334.60" y1="663.80" x2="339.10" y2="663.80" stroke="#000" stroke-width="1.2"/>
<text x="329.60" y="667.00" font-size="8.9" text-anchor="end" font-weight="normal">10</text>
<line x1="336.80" y1="655.44" x2="339.10" y2="655.44" stroke="#000" stroke-width="0.9"/>
<line x1="336.80" y1="650.55" x2="339.10" y2="650.55" stroke="#000" stroke-width="0.9"/>
<line x1="336.80" y1="647.08" x2="339.10" y2="647.08" stroke="#000" stroke-width="0.9"/>
<line x1="336.80" y1="644.39" x2="339.10" y2="644.39" stroke="#000" stroke-width="0.9"/>
<line x1="336.80" y1="642.19" x2="339.10" y2="642.19" stroke="#000" stroke-width="0.9"/>
<line x1="336.80" y1="640.33" x2="339.10" y2="640.33" stroke="#000" stroke-width="0.9"/>
<line x1="336.80" y1="638.72" x2="339.10" y2="638.72" stroke="#000" stroke-width="0.9"/>
<line x1="336.80" y1="637.30" x2="339.10" y2="637.30" stroke="#000" stroke-width="0.9"/>
<line x1="334.60" y1="636.03" x2="339.10" y2="636.03" stroke="#000" stroke-width="1.2"/>
<text x="329.60" y="639.23" font-size="8.9" text-anchor="end" font-weight="normal">100</text>
<line x1="336.80" y1="627.67" x2="339.10" y2="627.67" stroke="#000" stroke-width="0.9"/>
<line x1="336.80" y1="622.79" x2="339.10" y2="622.79" stroke="#000" stroke-width="0.9"/>
<line x1="336.80" y1="619.32" x2="339.10" y2="619.32" stroke="#000" stroke-width="0.9"/>
<line x1="336.80" y1="616.63" x2="339.10" y2="616.63" stroke="#000" stroke-width="0.9"/>
<line x1="336.80" y1="614.43" x2="339.10" y2="614.43" stroke="#000" stroke-width="0.9"/>
<line x1="336.80" y1="612.57" x2="339.10" y2="612.57" stroke="#000" stroke-width="0.9"/>
<line x1="336.80" y1="610.96" x2="339.10" y2="610.96" stroke="#000" stroke-width="0.9"/>
<line x1="336.80" y1="609.54" x2="339.10" y2="609.54" stroke="#000" stroke-width="0.9"/>
<line x1="334.60" y1="608.27" x2="339.10" y2="608.27" stroke="#000" stroke-width="1.2"/>
<text x="329.60" y="611.47" font-size="8.9" text-anchor="end" font-weight="normal">1000</text>
<line x1="336.80" y1="599.91" x2="339.10" y2="599.91" stroke="#000" stroke-width="0.9"/>
<line x1="336.80" y1="595.02" x2="339.10" y2="595.02" stroke="#000" stroke-width="0.9"/>
<line x1="336.80" y1="591.55" x2="339.10" y2="591.55" stroke="#000" stroke-width="0.9"/>
<line x1="336.80" y1="588.86" x2="339.10" y2="588.86" stroke="#000" stroke-width="0.9"/>
<line x1="336.80" y1="586.66" x2="339.10" y2="586.66" stroke="#000" stroke-width="0.9"/>
<line x1="336.80" y1="584.80" x2="339.10" y2="584.80" stroke="#000" stroke-width="0.9"/>
<line x1="336.80" y1="583.19" x2="339.10" y2="583.19" stroke="#000" stroke-width="0.9"/>
<line x1="336.80" y1="581.77" x2="339.10" y2="581.77" stroke="#000" stroke-width="0.9"/>
<line x1="334.60" y1="580.50" x2="339.10" y2="580.50" stroke="#000" stroke-width="1.2"/>
<text x="329.60" y="583.70" font-size="8.9" text-anchor="end" font-weight="normal">10000</text>
<text x="273.50" y="553.40" font-size="16.5" text-anchor="start" font-weight="bold">H</text>
<text x="339.00" y="559.50" font-size="7.8" text-anchor="start" font-weight="normal" textLength="69" lengthAdjust="spacingAndGlyphs">Number of Patients</text>
<text x="336.00" y="572.50" font-size="8.3" text-anchor="middle" font-weight="normal">15</text>
<text x="352.10" y="572.50" font-size="8.3" text-anchor="middle" font-weight="normal">16</text>
<text x="368.20" y="572.50" font-size="8.3" text-anchor="middle" font-weight="normal">15</text>
<text x="385.70" y="572.50" font-size="8.3" text-anchor="middle" font-weight="normal">15</text>
<text x="404.00" y="572.50" font-size="8.3" text-anchor="middle" font-weight="normal">14</text>
<text x="422.30" y="572.50" font-size="8.3" text-anchor="middle" font-weight="normal">10</text>
<text x="443.50" y="572.50" font-size="8.3" text-anchor="middle" font-weight="normal">10</text>
<text x="465.40" y="572.50" font-size="8.3" text-anchor="middle" font-weight="normal">6</text>
<text x="483.30" y="572.50" font-size="8.3" text-anchor="middle" font-weight="normal">6</text>
<text x="502.60" y="572.50" font-size="8.3" text-anchor="middle" font-weight="normal">3</text>
<text x="0" y="0" font-size="10.8" text-anchor="middle" transform="translate(278.30,620.00) rotate(-90)" textLength="93.5" lengthAdjust="spacingAndGlyphs">CD16<tspan dy="-0.42em" font-size="68%">+</tspan><tspan dy="0.286em">CD56</tspan><tspan dy="-0.42em" font-size="68%">+</tspan><tspan dy="0.286em"> NK Cells</tspan></text>
<text x="0" y="0" font-size="10.8" text-anchor="middle" transform="translate(295.80,620.00) rotate(-90)" textLength="62.5" lengthAdjust="spacingAndGlyphs">(cells × 10<tspan dy="-0.42em" font-size="68%">6</tspan><tspan dy="0.286em">/L)</tspan></text>
<path d="M338.9,620.8h0 M344.9,625.4h0 M351.1,629.4h0 M357.8,626.4h0 M364.9,625.6h0 M372.7,626.4h0 M380.0,627.3h0 M386.6,623.7h0 M393.0,620.2h0 M399.4,616.2h0 M406.8,618.7h0 M413.7,621.1h0 M420.7,623.8h0 M428.2,623.0h0 M435.5,621.9h0 M442.8,620.2h0 M449.2,616.0h0 M455.3,611.5h0 M461.1,607.2h0 M467.9,606.0h0 M474.4,608.7h0 M481.2,611.8h0 M488.0,615.1h0 M493.6,620.2h0 M499.8,624.6h0 M505.5,629.2h0" fill="none" stroke="#050510" stroke-width="3.1" stroke-linecap="round"/>
<path d="M338.8,642.4 L348.8,656.7 L359.2,653.1 L380.9,644.1 L400.8,640.3 L421.0,648.4 L463.8,628.4 L484.9,635.2 L505.5,635.2" fill="none" stroke="#000" stroke-width="2.3" stroke-linejoin="round"/>
<path d="M341.0,663.7h0 M348.3,663.7h0 M355.7,663.7h0 M363.0,663.7h0 M370.3,663.6h0 M377.7,663.6h0 M385.0,663.6h0 M392.3,663.6h0 M399.7,663.6h0 M407.0,663.6h0 M414.4,663.6h0 M421.7,663.5h0 M429.0,663.5h0 M436.4,663.5h0 M443.7,663.5h0 M451.1,660.2h0 M458.0,657.7h0 M465.1,654.9h0 M472.1,652.2h0 M478.8,648.9h0 M485.8,646.5h0 M493.1,644.0h0 M500.0,641.6h0" fill="none" stroke="#050510" stroke-width="3.1" stroke-linecap="round"/>
<rect x="85.70" y="781.40" width="166.40" height="5.20" fill="#62a8dd"/>
<rect x="85.70" y="792.00" width="166.40" height="3.10" fill="#4a2458"/>
<path d="M85.70,751.70 V839.50 H256.60" fill="none" stroke="#000" stroke-width="1.5"/>
<line x1="85.70" y1="839.50" x2="85.70" y2="844.00" stroke="#000" stroke-width="1.2"/>
<text x="85.70" y="857.20" font-size="9.0" text-anchor="middle" font-weight="normal">0</text>
<line x1="127.30" y1="839.50" x2="127.30" y2="844.00" stroke="#000" stroke-width="1.2"/>
<text x="127.30" y="857.20" font-size="9.0" text-anchor="middle" font-weight="normal">2</text>
<line x1="168.90" y1="839.50" x2="168.90" y2="844.00" stroke="#000" stroke-width="1.2"/>
<text x="168.90" y="857.20" font-size="9.0" text-anchor="middle" font-weight="normal">4</text>
<line x1="210.50" y1="839.50" x2="210.50" y2="844.00" stroke="#000" stroke-width="1.2"/>
<text x="210.50" y="857.20" font-size="9.0" text-anchor="middle" font-weight="normal">6</text>
<line x1="252.10" y1="839.50" x2="252.10" y2="844.00" stroke="#000" stroke-width="1.2"/>
<text x="252.10" y="857.20" font-size="9.0" text-anchor="middle" font-weight="normal">8</text>
<text x="171.30" y="873.30" font-size="10.3" text-anchor="middle" font-weight="normal" textLength="19" lengthAdjust="spacingAndGlyphs">Year</text>
<line x1="81.20" y1="839.50" x2="85.70" y2="839.50" stroke="#000" stroke-width="1.2"/>
<text x="76.20" y="842.70" font-size="8.9" text-anchor="end" font-weight="normal">10</text>
<line x1="83.40" y1="831.14" x2="85.70" y2="831.14" stroke="#000" stroke-width="0.9"/>
<line x1="83.40" y1="826.25" x2="85.70" y2="826.25" stroke="#000" stroke-width="0.9"/>
<line x1="83.40" y1="822.78" x2="85.70" y2="822.78" stroke="#000" stroke-width="0.9"/>
<line x1="83.40" y1="820.09" x2="85.70" y2="820.09" stroke="#000" stroke-width="0.9"/>
<line x1="83.40" y1="817.89" x2="85.70" y2="817.89" stroke="#000" stroke-width="0.9"/>
<line x1="83.40" y1="816.03" x2="85.70" y2="816.03" stroke="#000" stroke-width="0.9"/>
<line x1="83.40" y1="814.42" x2="85.70" y2="814.42" stroke="#000" stroke-width="0.9"/>
<line x1="83.40" y1="813.00" x2="85.70" y2="813.00" stroke="#000" stroke-width="0.9"/>
<line x1="81.20" y1="811.73" x2="85.70" y2="811.73" stroke="#000" stroke-width="1.2"/>
<text x="76.20" y="814.93" font-size="8.9" text-anchor="end" font-weight="normal">100</text>
<line x1="83.40" y1="803.37" x2="85.70" y2="803.37" stroke="#000" stroke-width="0.9"/>
<line x1="83.40" y1="798.49" x2="85.70" y2="798.49" stroke="#000" stroke-width="0.9"/>
<line x1="83.40" y1="795.02" x2="85.70" y2="795.02" stroke="#000" stroke-width="0.9"/>
<line x1="83.40" y1="792.33" x2="85.70" y2="792.33" stroke="#000" stroke-width="0.9"/>
<line x1="83.40" y1="790.13" x2="85.70" y2="790.13" stroke="#000" stroke-width="0.9"/>
<line x1="83.40" y1="788.27" x2="85.70" y2="788.27" stroke="#000" stroke-width="0.9"/>
<line x1="83.40" y1="786.66" x2="85.70" y2="786.66" stroke="#000" stroke-width="0.9"/>
<line x1="83.40" y1="785.24" x2="85.70" y2="785.24" stroke="#000" stroke-width="0.9"/>
<line x1="81.20" y1="783.97" x2="85.70" y2="783.97" stroke="#000" stroke-width="1.2"/>
<text x="76.20" y="787.17" font-size="8.9" text-anchor="end" font-weight="normal">1000</text>
<line x1="83.40" y1="775.61" x2="85.70" y2="775.61" stroke="#000" stroke-width="0.9"/>
<line x1="83.40" y1="770.72" x2="85.70" y2="770.72" stroke="#000" stroke-width="0.9"/>
<line x1="83.40" y1="767.25" x2="85.70" y2="767.25" stroke="#000" stroke-width="0.9"/>
<line x1="83.40" y1="764.56" x2="85.70" y2="764.56" stroke="#000" stroke-width="0.9"/>
<line x1="83.40" y1="762.36" x2="85.70" y2="762.36" stroke="#000" stroke-width="0.9"/>
<line x1="83.40" y1="760.50" x2="85.70" y2="760.50" stroke="#000" stroke-width="0.9"/>
<line x1="83.40" y1="758.89" x2="85.70" y2="758.89" stroke="#000" stroke-width="0.9"/>
<line x1="83.40" y1="757.47" x2="85.70" y2="757.47" stroke="#000" stroke-width="0.9"/>
<line x1="81.20" y1="756.20" x2="85.70" y2="756.20" stroke="#000" stroke-width="1.2"/>
<text x="76.20" y="759.40" font-size="8.9" text-anchor="end" font-weight="normal">10000</text>
<text x="20.00" y="729.10" font-size="16.5" text-anchor="start" font-weight="bold">I</text>
<text x="85.60" y="734.80" font-size="7.8" text-anchor="start" font-weight="normal" textLength="69" lengthAdjust="spacingAndGlyphs">Number of Patients</text>
<text x="83.00" y="747.50" font-size="8.3" text-anchor="middle" font-weight="normal">15</text>
<text x="98.70" y="747.50" font-size="8.3" text-anchor="middle" font-weight="normal">16</text>
<text x="114.50" y="747.50" font-size="8.3" text-anchor="middle" font-weight="normal">15</text>
<text x="129.10" y="747.50" font-size="8.3" text-anchor="middle" font-weight="normal">15</text>
<text x="148.80" y="747.50" font-size="8.3" text-anchor="middle" font-weight="normal">14</text>
<text x="167.80" y="747.50" font-size="8.3" text-anchor="middle" font-weight="normal">10</text>
<text x="188.60" y="747.50" font-size="8.3" text-anchor="middle" font-weight="normal">10</text>
<text x="209.50" y="747.50" font-size="8.3" text-anchor="middle" font-weight="normal">6</text>
<text x="228.50" y="747.50" font-size="8.3" text-anchor="middle" font-weight="normal">6</text>
<text x="246.70" y="747.50" font-size="8.3" text-anchor="middle" font-weight="normal">3</text>
<text x="0" y="0" font-size="10.8" text-anchor="middle" transform="translate(24.90,795.70) rotate(-90)" textLength="76.5" lengthAdjust="spacingAndGlyphs">CD3<tspan dy="-0.42em" font-size="68%">+</tspan><tspan dy="0.286em">CD4</tspan><tspan dy="-0.42em" font-size="68%">+</tspan><tspan dy="0.286em"> T Cells</tspan></text>
<text x="0" y="0" font-size="10.8" text-anchor="middle" transform="translate(42.40,795.70) rotate(-90)" textLength="62.5" lengthAdjust="spacingAndGlyphs">(cells × 10<tspan dy="-0.42em" font-size="68%">6</tspan><tspan dy="0.286em">/L)</tspan></text>
<path d="M85.5,778.0h0 M88.9,784.6h0 M91.9,791.9h0 M94.8,798.8h0 M99.3,797.1h0 M104.5,791.9h0 M111.4,788.9h0 M118.9,787.2h0 M126.1,785.8h0 M133.6,785.1h0 M141.2,785.1h0 M148.5,784.6h0 M155.6,786.0h0 M163.0,787.7h0 M170.5,788.9h0 M178.2,788.7h0 M185.6,788.4h0 M193.0,787.8h0 M200.6,787.5h0 M207.9,786.5h0 M215.6,786.0h0 M223.1,785.1h0 M230.4,784.2h0 M238.1,786.2h0 M245.0,787.8h0 M252.3,789.8h0" fill="none" stroke="#050510" stroke-width="3.1" stroke-linecap="round"/>
<path d="M85.8,818.4 L95.8,810.9 L107.1,801.4 L127.3,797.9 L165.0,798.4 L183.3,795.7 L210.7,791.1 L228.9,792.4 L252.3,791.1" fill="none" stroke="#000" stroke-width="2.3" stroke-linejoin="round"/>
<path d="M89.8,833.6h0 M94.1,827.4h0 M100.2,824.1h0 M107.6,822.7h0 M113.7,818.4h0 M119.2,814.0h0 M125.6,809.7h0 M132.2,810.6h0 M138.8,814.0h0 M145.7,817.0h0 M152.6,817.2h0 M159.9,815.8h0 M167.2,814.3h0 M174.7,813.4h0 M182.4,813.4h0 M190.0,813.4h0 M196.1,809.0h0 M202.5,804.8h0 M208.5,800.6h0 M214.0,802.4h0 M219.4,807.5h0 M225.3,812.5h0 M230.4,817.6h0 M235.9,813.4h0 M240.8,807.9h0 M245.7,802.1h0 M250.9,796.2h0" fill="none" stroke="#050510" stroke-width="3.1" stroke-linecap="round"/>
<rect x="339.10" y="787.20" width="166.40" height="7.50" fill="#62a8dd"/>
<rect x="339.10" y="798.60" width="166.40" height="4.30" fill="#4a2458"/>
<path d="M339.10,751.70 V839.50 H510.00" fill="none" stroke="#000" stroke-width="1.5"/>
<line x1="339.10" y1="839.50" x2="339.10" y2="844.00" stroke="#000" stroke-width="1.2"/>
<text x="339.10" y="857.20" font-size="9.0" text-anchor="middle" font-weight="normal">0</text>
<line x1="380.70" y1="839.50" x2="380.70" y2="844.00" stroke="#000" stroke-width="1.2"/>
<text x="380.70" y="857.20" font-size="9.0" text-anchor="middle" font-weight="normal">2</text>
<line x1="422.30" y1="839.50" x2="422.30" y2="844.00" stroke="#000" stroke-width="1.2"/>
<text x="422.30" y="857.20" font-size="9.0" text-anchor="middle" font-weight="normal">4</text>
<line x1="463.90" y1="839.50" x2="463.90" y2="844.00" stroke="#000" stroke-width="1.2"/>
<text x="463.90" y="857.20" font-size="9.0" text-anchor="middle" font-weight="normal">6</text>
<line x1="505.50" y1="839.50" x2="505.50" y2="844.00" stroke="#000" stroke-width="1.2"/>
<text x="505.50" y="857.20" font-size="9.0" text-anchor="middle" font-weight="normal">8</text>
<text x="424.70" y="873.30" font-size="10.3" text-anchor="middle" font-weight="normal" textLength="19" lengthAdjust="spacingAndGlyphs">Year</text>
<line x1="334.60" y1="839.50" x2="339.10" y2="839.50" stroke="#000" stroke-width="1.2"/>
<text x="329.60" y="842.70" font-size="8.9" text-anchor="end" font-weight="normal">10</text>
<line x1="336.80" y1="831.14" x2="339.10" y2="831.14" stroke="#000" stroke-width="0.9"/>
<line x1="336.80" y1="826.25" x2="339.10" y2="826.25" stroke="#000" stroke-width="0.9"/>
<line x1="336.80" y1="822.78" x2="339.10" y2="822.78" stroke="#000" stroke-width="0.9"/>
<line x1="336.80" y1="820.09" x2="339.10" y2="820.09" stroke="#000" stroke-width="0.9"/>
<line x1="336.80" y1="817.89" x2="339.10" y2="817.89" stroke="#000" stroke-width="0.9"/>
<line x1="336.80" y1="816.03" x2="339.10" y2="816.03" stroke="#000" stroke-width="0.9"/>
<line x1="336.80" y1="814.42" x2="339.10" y2="814.42" stroke="#000" stroke-width="0.9"/>
<line x1="336.80" y1="813.00" x2="339.10" y2="813.00" stroke="#000" stroke-width="0.9"/>
<line x1="334.60" y1="811.73" x2="339.10" y2="811.73" stroke="#000" stroke-width="1.2"/>
<text x="329.60" y="814.93" font-size="8.9" text-anchor="end" font-weight="normal">100</text>
<line x1="336.80" y1="803.37" x2="339.10" y2="803.37" stroke="#000" stroke-width="0.9"/>
<line x1="336.80" y1="798.49" x2="339.10" y2="798.49" stroke="#000" stroke-width="0.9"/>
<line x1="336.80" y1="795.02" x2="339.10" y2="795.02" stroke="#000" stroke-width="0.9"/>
<line x1="336.80" y1="792.33" x2="339.10" y2="792.33" stroke="#000" stroke-width="0.9"/>
<line x1="336.80" y1="790.13" x2="339.10" y2="790.13" stroke="#000" stroke-width="0.9"/>
<line x1="336.80" y1="788.27" x2="339.10" y2="788.27" stroke="#000" stroke-width="0.9"/>
<line x1="336.80" y1="786.66" x2="339.10" y2="786.66" stroke="#000" stroke-width="0.9"/>
<line x1="336.80" y1="785.24" x2="339.10" y2="785.24" stroke="#000" stroke-width="0.9"/>
<line x1="334.60" y1="783.97" x2="339.10" y2="783.97" stroke="#000" stroke-width="1.2"/>
<text x="329.60" y="787.17" font-size="8.9" text-anchor="end" font-weight="normal">1000</text>
<line x1="336.80" y1="775.61" x2="339.10" y2="775.61" stroke="#000" stroke-width="0.9"/>
<line x1="336.80" y1="770.72" x2="339.10" y2="770.72" stroke="#000" stroke-width="0.9"/>
<line x1="336.80" y1="767.25" x2="339.10" y2="767.25" stroke="#000" stroke-width="0.9"/>
<line x1="336.80" y1="764.56" x2="339.10" y2="764.56" stroke="#000" stroke-width="0.9"/>
<line x1="336.80" y1="762.36" x2="339.10" y2="762.36" stroke="#000" stroke-width="0.9"/>
<line x1="336.80" y1="760.50" x2="339.10" y2="760.50" stroke="#000" stroke-width="0.9"/>
<line x1="336.80" y1="758.89" x2="339.10" y2="758.89" stroke="#000" stroke-width="0.9"/>
<line x1="336.80" y1="757.47" x2="339.10" y2="757.47" stroke="#000" stroke-width="0.9"/>
<line x1="334.60" y1="756.20" x2="339.10" y2="756.20" stroke="#000" stroke-width="1.2"/>
<text x="329.60" y="759.40" font-size="8.9" text-anchor="end" font-weight="normal">10000</text>
<text x="273.50" y="729.10" font-size="16.5" text-anchor="start" font-weight="bold">J</text>
<text x="339.00" y="734.80" font-size="7.8" text-anchor="start" font-weight="normal" textLength="69" lengthAdjust="spacingAndGlyphs">Number of Patients</text>
<text x="334.60" y="747.50" font-size="8.3" text-anchor="middle" font-weight="normal">15</text>
<text x="348.80" y="747.50" font-size="8.3" text-anchor="middle" font-weight="normal">16</text>
<text x="363.10" y="747.50" font-size="8.3" text-anchor="middle" font-weight="normal">15</text>
<text x="381.70" y="747.50" font-size="8.3" text-anchor="middle" font-weight="normal">15</text>
<text x="400.30" y="747.50" font-size="8.3" text-anchor="middle" font-weight="normal">14</text>
<text x="422.30" y="747.50" font-size="8.3" text-anchor="middle" font-weight="normal">10</text>
<text x="443.50" y="747.50" font-size="8.3" text-anchor="middle" font-weight="normal">10</text>
<text x="463.90" y="747.50" font-size="8.3" text-anchor="middle" font-weight="normal">6</text>
<text x="483.30" y="747.50" font-size="8.3" text-anchor="middle" font-weight="normal">6</text>
<text x="502.60" y="747.50" font-size="8.3" text-anchor="middle" font-weight="normal">3</text>
<text x="0" y="0" font-size="10.8" text-anchor="middle" transform="translate(278.30,795.70) rotate(-90)" textLength="76.5" lengthAdjust="spacingAndGlyphs">CD3<tspan dy="-0.42em" font-size="68%">+</tspan><tspan dy="0.286em">CD8</tspan><tspan dy="-0.42em" font-size="68%">+</tspan><tspan dy="0.286em"> T Cells</tspan></text>
<text x="0" y="0" font-size="10.8" text-anchor="middle" transform="translate(295.80,795.70) rotate(-90)" textLength="62.5" lengthAdjust="spacingAndGlyphs">(cells × 10<tspan dy="-0.42em" font-size="68%">6</tspan><tspan dy="0.286em">/L)</tspan></text>
<path d="M338.8,767.3h0 M341.6,774.6h0 M343.7,781.5h0 M346.2,788.4h0 M348.8,795.9h0 M353.2,792.4h0 M358.0,786.9h0 M364.4,784.3h0 M371.9,783.4h0 M379.5,783.2h0 M386.6,781.7h0 M394.0,780.3h0 M401.3,778.6h0 M408.2,782.0h0 M414.6,785.5h0 M421.5,788.6h0 M428.2,786.2h0 M435.5,783.4h0 M442.3,780.5h0 M449.2,778.3h0 M456.5,776.1h0 M463.5,774.1h0 M470.8,777.0h0 M477.5,780.1h0 M484.3,782.9h0 M491.2,785.1h0 M498.6,787.5h0 M504.0,788.7h0" fill="none" stroke="#050510" stroke-width="3.1" stroke-linecap="round"/>
<path d="M338.8,829.6 L349.7,814.0 L360.1,809.7 L380.0,805.0 L401.6,796.7 L420.0,799.0 L443.7,799.3 L463.8,788.7 L484.9,795.7 L505.5,788.7" fill="none" stroke="#000" stroke-width="2.3" stroke-linejoin="round"/>
<path d="M346.2,839.7h0 M352.8,835.7h0 M358.4,830.5h0 M364.8,827.0h0 M371.3,824.1h0 M377.9,820.6h0 M385.5,820.1h0 M393.0,821.3h0 M400.1,822.3h0 M406.8,818.7h0 M412.9,814.4h0 M419.2,809.7h0 M426.0,807.5h0 M433.3,807.0h0 M440.6,806.6h0 M448.3,805.7h0 M455.6,804.3h0 M462.9,803.0h0 M470.2,804.4h0 M477.2,807.0h0 M483.9,809.0h0 M490.3,805.2h0 M496.7,801.2h0 M503.1,797.1h0" fill="none" stroke="#050510" stroke-width="3.1" stroke-linecap="round"/>
<rect x="85.70" y="958.70" width="166.40" height="10.30" fill="#5fa640"/>
<rect x="85.70" y="969.00" width="166.40" height="7.00" fill="#eeb27a"/>
<path d="M85.70,926.40 V1014.20 H256.60" fill="none" stroke="#000" stroke-width="1.5"/>
<line x1="85.70" y1="1014.20" x2="85.70" y2="1018.70" stroke="#000" stroke-width="1.2"/>
<text x="85.70" y="1031.90" font-size="9.0" text-anchor="middle" font-weight="normal">0</text>
<line x1="127.30" y1="1014.20" x2="127.30" y2="1018.70" stroke="#000" stroke-width="1.2"/>
<text x="127.30" y="1031.90" font-size="9.0" text-anchor="middle" font-weight="normal">2</text>
<line x1="168.90" y1="1014.20" x2="168.90" y2="1018.70" stroke="#000" stroke-width="1.2"/>
<text x="168.90" y="1031.90" font-size="9.0" text-anchor="middle" font-weight="normal">4</text>
<line x1="210.50" y1="1014.20" x2="210.50" y2="1018.70" stroke="#000" stroke-width="1.2"/>
<text x="210.50" y="1031.90" font-size="9.0" text-anchor="middle" font-weight="normal">6</text>
<line x1="252.10" y1="1014.20" x2="252.10" y2="1018.70" stroke="#000" stroke-width="1.2"/>
<text x="252.10" y="1031.90" font-size="9.0" text-anchor="middle" font-weight="normal">8</text>
<text x="171.30" y="1048.00" font-size="10.3" text-anchor="middle" font-weight="normal" textLength="19" lengthAdjust="spacingAndGlyphs">Year</text>
<line x1="81.20" y1="1014.20" x2="85.70" y2="1014.20" stroke="#000" stroke-width="1.2"/>
<text x="76.20" y="1017.40" font-size="8.9" text-anchor="end" font-weight="normal">10</text>
<line x1="83.40" y1="1005.84" x2="85.70" y2="1005.84" stroke="#000" stroke-width="0.9"/>
<line x1="83.40" y1="1000.95" x2="85.70" y2="1000.95" stroke="#000" stroke-width="0.9"/>
<line x1="83.40" y1="997.48" x2="85.70" y2="997.48" stroke="#000" stroke-width="0.9"/>
<line x1="83.40" y1="994.79" x2="85.70" y2="994.79" stroke="#000" stroke-width="0.9"/>
<line x1="83.40" y1="992.59" x2="85.70" y2="992.59" stroke="#000" stroke-width="0.9"/>
<line x1="83.40" y1="990.73" x2="85.70" y2="990.73" stroke="#000" stroke-width="0.9"/>
<line x1="83.40" y1="989.12" x2="85.70" y2="989.12" stroke="#000" stroke-width="0.9"/>
<line x1="83.40" y1="987.70" x2="85.70" y2="987.70" stroke="#000" stroke-width="0.9"/>
<line x1="81.20" y1="986.43" x2="85.70" y2="986.43" stroke="#000" stroke-width="1.2"/>
<text x="76.20" y="989.63" font-size="8.9" text-anchor="end" font-weight="normal">100</text>
<line x1="83.40" y1="978.07" x2="85.70" y2="978.07" stroke="#000" stroke-width="0.9"/>
<line x1="83.40" y1="973.19" x2="85.70" y2="973.19" stroke="#000" stroke-width="0.9"/>
<line x1="83.40" y1="969.72" x2="85.70" y2="969.72" stroke="#000" stroke-width="0.9"/>
<line x1="83.40" y1="967.03" x2="85.70" y2="967.03" stroke="#000" stroke-width="0.9"/>
<line x1="83.40" y1="964.83" x2="85.70" y2="964.83" stroke="#000" stroke-width="0.9"/>
<line x1="83.40" y1="962.97" x2="85.70" y2="962.97" stroke="#000" stroke-width="0.9"/>
<line x1="83.40" y1="961.36" x2="85.70" y2="961.36" stroke="#000" stroke-width="0.9"/>
<line x1="83.40" y1="959.94" x2="85.70" y2="959.94" stroke="#000" stroke-width="0.9"/>
<line x1="81.20" y1="958.67" x2="85.70" y2="958.67" stroke="#000" stroke-width="1.2"/>
<text x="76.20" y="961.87" font-size="8.9" text-anchor="end" font-weight="normal">1000</text>
<line x1="83.40" y1="950.31" x2="85.70" y2="950.31" stroke="#000" stroke-width="0.9"/>
<line x1="83.40" y1="945.42" x2="85.70" y2="945.42" stroke="#000" stroke-width="0.9"/>
<line x1="83.40" y1="941.95" x2="85.70" y2="941.95" stroke="#000" stroke-width="0.9"/>
<line x1="83.40" y1="939.26" x2="85.70" y2="939.26" stroke="#000" stroke-width="0.9"/>
<line x1="83.40" y1="937.06" x2="85.70" y2="937.06" stroke="#000" stroke-width="0.9"/>
<line x1="83.40" y1="935.20" x2="85.70" y2="935.20" stroke="#000" stroke-width="0.9"/>
<line x1="83.40" y1="933.59" x2="85.70" y2="933.59" stroke="#000" stroke-width="0.9"/>
<line x1="83.40" y1="932.17" x2="85.70" y2="932.17" stroke="#000" stroke-width="0.9"/>
<line x1="81.20" y1="930.90" x2="85.70" y2="930.90" stroke="#000" stroke-width="1.2"/>
<text x="76.20" y="934.10" font-size="8.9" text-anchor="end" font-weight="normal">10000</text>
<text x="20.00" y="903.80" font-size="16.5" text-anchor="start" font-weight="bold">K</text>
<text x="85.60" y="909.50" font-size="7.8" text-anchor="start" font-weight="normal" textLength="69" lengthAdjust="spacingAndGlyphs">Number of Patients</text>
<text x="81.60" y="922.80" font-size="8.3" text-anchor="middle" font-weight="normal">13</text>
<text x="95.10" y="922.80" font-size="8.3" text-anchor="middle" font-weight="normal">15</text>
<text x="109.70" y="922.80" font-size="8.3" text-anchor="middle" font-weight="normal">15</text>
<text x="128.00" y="922.80" font-size="8.3" text-anchor="middle" font-weight="normal">14</text>
<text x="149.20" y="922.80" font-size="8.3" text-anchor="middle" font-weight="normal">13</text>
<text x="167.40" y="922.80" font-size="8.3" text-anchor="middle" font-weight="normal">10</text>
<text x="188.30" y="922.80" font-size="8.3" text-anchor="middle" font-weight="normal">9</text>
<text x="209.50" y="922.80" font-size="8.3" text-anchor="middle" font-weight="normal">6</text>
<text x="231.40" y="922.80" font-size="8.3" text-anchor="middle" font-weight="normal">6</text>
<text x="251.10" y="922.80" font-size="8.3" text-anchor="middle" font-weight="normal">3</text>
<text x="0" y="0" font-size="10.8" text-anchor="middle" transform="translate(24.90,970.40) rotate(-90)" textLength="61.5" lengthAdjust="spacingAndGlyphs">CD4<tspan dy="-0.42em" font-size="68%">+</tspan><tspan dy="0.286em">CD45RA</tspan><tspan dy="-0.42em" font-size="68%">+</tspan></text>
<text x="0" y="0" font-size="10.8" text-anchor="middle" transform="translate(42.40,970.40) rotate(-90)" textLength="97" lengthAdjust="spacingAndGlyphs">T Cells (cells × 10<tspan dy="-0.42em" font-size="68%">6</tspan><tspan dy="0.286em">/L)</tspan></text>
<path d="M85.7,955.0h0 M88.6,961.7h0 M91.5,968.3h0 M94.5,975.2h0 M99.3,978.3h0 M106.6,976.6h0 M114.0,975.2h0 M121.5,974.0h0 M128.7,973.1h0 M136.5,972.6h0 M143.8,972.1h0 M151.2,972.2h0 M159.0,973.5h0 M166.5,974.3h0 M173.8,975.6h0 M181.1,976.7h0 M188.7,978.0h0 M194.8,974.0h0 M201.2,969.8h0 M207.6,965.6h0 M214.0,963.4h0 M221.6,963.4h0 M228.9,963.4h0 M235.9,966.1h0 M242.1,970.3h0 M248.1,974.3h0" fill="none" stroke="#050510" stroke-width="3.1" stroke-linecap="round"/>
<path d="M85.8,1012.4 L95.8,999.8 L107.1,989.9 L127.3,986.4 L146.9,989.4 L165.0,988.9 L189.7,991.1 L210.7,981.6 L231.7,989.3 L252.3,987.7" fill="none" stroke="#000" stroke-width="2.3" stroke-linejoin="round"/>
<path d="M86.5,1013.4h0 M93.4,1013.4h0 M100.2,1013.3h0 M107.1,1013.3h0 M114.9,1010.3h0 M122.2,1007.7h0 M128.7,1004.6h0 M136.0,1002.0h0 M142.6,999.4h0 M149.2,999.1h0 M155.6,1003.4h0 M161.3,1008.1h0 M167.1,1012.7h0 M174.3,1012.7h0 M181.5,1012.6h0 M188.7,1012.6h0 M194.6,1007.2h0 M200.6,1002.1h0 M206.1,997.2h0 M211.6,993.5h0 M216.7,999.0h0 M222.0,1004.1h0 M227.1,1009.4h0 M232.5,1013.0h0 M237.7,1007.8h0 M242.6,1002.6h0 M248.1,997.2h0" fill="none" stroke="#050510" stroke-width="3.1" stroke-linecap="round"/>
<rect x="0" y="0" width="520" height="1.1" fill="#000"/><rect x="0" y="0" width="1.3" height="1060" fill="#000"/><rect x="518.6" y="0" width="1.4" height="1060" fill="#000"/><rect x="0" y="1058.4" width="520" height="1.6" fill="#000"/>
</svg>
</body></html>
